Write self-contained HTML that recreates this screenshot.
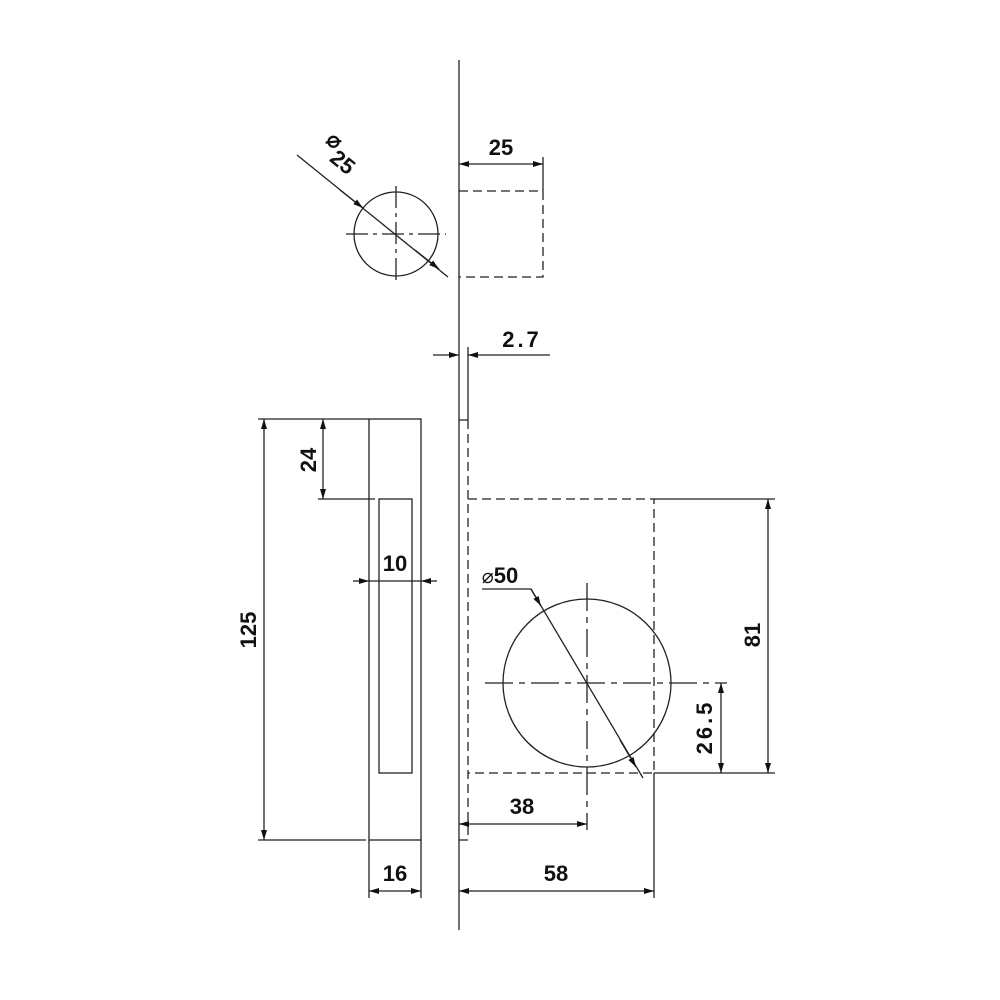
<!DOCTYPE html>
<html><head><meta charset="utf-8"><style>
html,body{margin:0;padding:0;background:#fff}
svg{display:block}
text{font-family:"Liberation Sans",Arial,sans-serif;font-size:22px;font-weight:bold;fill:#111}
</style></head><body>
<svg width="1000" height="1000" viewBox="0 0 1000 1000" xmlns="http://www.w3.org/2000/svg">
<defs>
<marker id="a" viewBox="0 0 10 6" refX="10" refY="3" markerWidth="10" markerHeight="6" orient="auto-start-reverse" markerUnits="userSpaceOnUse"><path d="M0,0 L10,3 L0,6 z" fill="#111"/></marker>
</defs>
<g stroke="#222" stroke-width="1.3" fill="none">
<line x1="459" y1="60" x2="459" y2="930"/>
<path d="M459,191 H543 V277 H459" stroke-dasharray="9,5"/>
<line x1="543" y1="157" x2="543" y2="191"/>
<line x1="459" y1="164" x2="543" y2="164" marker-start="url(#a)" marker-end="url(#a)"/>
<circle cx="396" cy="234" r="42"/>
<line x1="346" y1="234" x2="446" y2="234" stroke-dasharray="22,5,4,5"/>
<line x1="396" y1="186" x2="396" y2="284" stroke-dasharray="22,5,4,5"/>
<line x1="297" y1="155" x2="448" y2="277"/>
<line x1="340" y1="190" x2="363" y2="208" marker-end="url(#a)"/>
<line x1="415" y1="250" x2="439" y2="269" marker-end="url(#a)"/>
<line x1="468" y1="347" x2="468" y2="420"/>
<line x1="433" y1="355" x2="459" y2="355" marker-end="url(#a)"/>
<line x1="550" y1="355" x2="468" y2="355" marker-end="url(#a)"/>
<path d="M459,420 H468 M459,840 H468"/>
<line x1="468" y1="420" x2="468" y2="840" stroke-dasharray="9,5"/>
<path d="M468,499 H654 V773 H468" stroke-dasharray="9,5"/>
<line x1="654" y1="773" x2="654" y2="898"/>
<circle cx="587" cy="683" r="84"/>
<line x1="485" y1="683" x2="727" y2="683" stroke-dasharray="28,6,6,6"/>
<line x1="587" y1="583" x2="587" y2="830" stroke-dasharray="28,6,6,6"/>
<path d="M482,589 H531 L643,778"/>
<line x1="531" y1="589" x2="541" y2="606" marker-end="url(#a)"/>
<line x1="620" y1="740" x2="636" y2="767" marker-end="url(#a)"/>
<line x1="654" y1="499" x2="775" y2="499"/>
<line x1="654" y1="773" x2="775" y2="773"/>
<line x1="768" y1="499" x2="768" y2="773" marker-start="url(#a)" marker-end="url(#a)"/>
<line x1="721" y1="683" x2="721" y2="773" marker-start="url(#a)" marker-end="url(#a)"/>
<line x1="459" y1="824" x2="587" y2="824" marker-start="url(#a)" marker-end="url(#a)"/>
<line x1="459" y1="891" x2="654" y2="891" marker-start="url(#a)" marker-end="url(#a)"/>
<rect x="369" y="419" width="52" height="421"/>
<rect x="379" y="499" width="33" height="274"/>
<line x1="258" y1="419" x2="369" y2="419"/>
<line x1="258" y1="840" x2="366" y2="840"/>
<line x1="264" y1="419" x2="264" y2="840" marker-start="url(#a)" marker-end="url(#a)"/>
<line x1="318" y1="499" x2="375" y2="499"/>
<line x1="323" y1="419" x2="323" y2="499" marker-start="url(#a)" marker-end="url(#a)"/>
<line x1="353" y1="581" x2="369" y2="581" marker-end="url(#a)"/>
<line x1="437" y1="581" x2="421" y2="581" marker-end="url(#a)"/>
<line x1="369" y1="581" x2="421" y2="581"/>
<line x1="369" y1="840" x2="369" y2="898"/>
<line x1="421" y1="840" x2="421" y2="898"/>
<line x1="369" y1="891" x2="421" y2="891" marker-start="url(#a)" marker-end="url(#a)"/>
</g>
<text x="501" y="155" text-anchor="middle">25</text>
<text x="522" y="347" text-anchor="middle" letter-spacing="3">2.7</text>
<g transform="translate(338,168) rotate(39)"><text x="0" y="0" text-anchor="middle" font-size="23">25</text><text x="-20" y="-12" text-anchor="middle" font-size="14" font-weight="normal">⌀</text></g>
<text x="500" y="583" text-anchor="middle"><tspan font-weight="normal" font-size="20">⌀</tspan>50</text>
<text x="395" y="571" text-anchor="middle">10</text>
<text x="522" y="814" text-anchor="middle">38</text>
<text x="556" y="881" text-anchor="middle">58</text>
<text x="395" y="881" text-anchor="middle">16</text>
<text transform="translate(316,460) rotate(-90)" text-anchor="middle">24</text>
<text transform="translate(256,630) rotate(-90)" text-anchor="middle">125</text>
<text transform="translate(760,635) rotate(-90)" text-anchor="middle">81</text>
<text transform="translate(712,727) rotate(-90)" text-anchor="middle" letter-spacing="3">26.5</text>
</svg>
</body></html>
